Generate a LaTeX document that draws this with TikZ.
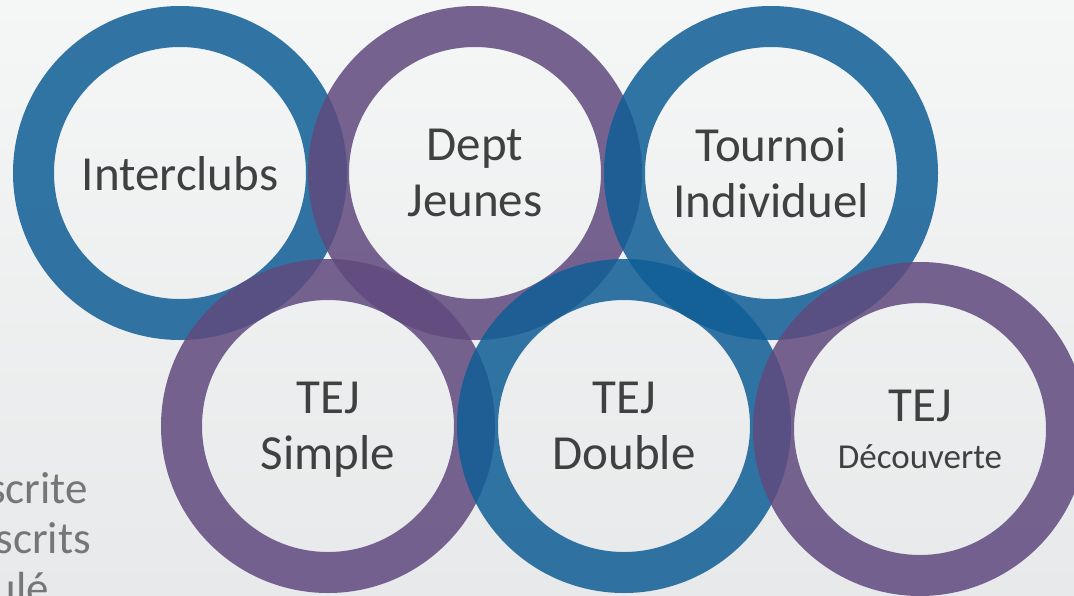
\documentclass[tikz,border=0pt]{standalone}
\usepackage{fontspec}
\setmainfont{Carlito}
\usetikzlibrary{calc}
\definecolor{ringblue}{HTML}{0F5E96}
\definecolor{ringpurple}{HTML}{60497E}
\definecolor{labelgray}{HTML}{404040}
\definecolor{notegray}{HTML}{767676}
\definecolor{bgtop}{HTML}{F5F6F6}
\definecolor{bgbottom}{HTML}{E7E9EA}
\tikzset{
  ring/.style={circle, draw=#1, draw opacity=0.85, line width=41pt,
    minimum size=293pt, inner sep=0pt, text depth=0pt, text=labelgray,
    align=center, font=\fontsize{49}{56}\selectfont},
  note/.style={anchor=base east, inner sep=0pt, text=notegray,
    font=\fontsize{45}{49}\selectfont}
}
\def\bluering{\node[ring=ringblue]}
\def\purplering{\node[ring=ringpurple]}

\begin{document}
\begin{tikzpicture}[x=1pt,y=-1pt]
\useasboundingbox (0,0) rectangle (1074,595);
\clip (0,0) rectangle (1074,595);
\fill[top color=bgtop, bottom color=bgbottom] (0,0) rectangle (1074,595);

% notes cut by the left edge
\node[note] (note1) at (88,503) {scrite};
\node[note] (note2) at (91,553) {scrits};
\node[note] (note3) at (49,603) {ulé};

\coordinate (o) at (180,173); % top left ring, the others are relative to it

% top row
\bluering (inter) at (o) {Interclubs};
\purplering (dept) at ($ (o) + (295,0) $) {Dept\\Jeunes};
\bluering (tournoi) at ($ (o) + (591,0) $) {Tournoi\\Individuel};

% bottom row
\purplering (simple) at ($ (o) + (148,253) $) {TEJ\\Simple};
\bluering (double) at ($ (o) + (444,253) $) {TEJ\\Double};
\purplering (decouv) at ($ (o) + (740,256) $) {TEJ\\[-9pt]{\fontsize{35}{40}\selectfont Découverte}};
\end{tikzpicture}
\end{document}
